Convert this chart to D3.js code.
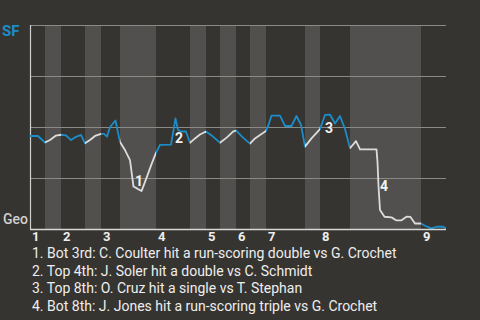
<!DOCTYPE html>
<html>
<head>
<meta charset="utf-8">
<script src="https://cdn.jsdelivr.net/npm/d3@7"></script>
<style>
  html, body { margin: 0; padding: 0; background: #363430; }
  svg { display: block; }
  text { font-family: Roboto, "Noto Sans", sans-serif; }
</style>
</head>
<body>
<svg id="chart" width="480" height="320"></svg>
<script>
// Play index (x) and SF win probability in % (y)
const playIndex = [0, 2, 3.75, 5, 6.5, 7.75, 9, 10.25, 11.5, 12.75, 13.75, 15, 16.25, 17.75, 18.5, 19.25, 20, 21.375, 22.5, 23.75, 25, 25.875, 26.75, 27.875, 29.25, 30.5, 31.5, 32.5, 35.25, 36.375, 37, 37.75, 39, 40, 41.25, 42.5, 44, 45.75, 47.5, 49.25, 50.75, 51.5, 53, 54.25, 55, 56.25, 57.875, 59, 59.625, 60.375, 62.5, 63.75, 65.375, 66.625, 67.75, 68.75, 70.375, 72.5, 73.75, 75, 76.25, 77.5, 78.75, 80, 81.5, 82.5, 86.625, 86.875, 87.125, 87.5, 88.625, 90.375, 91.625, 92.875, 94.125, 95.125, 96.25, 97.75, 98.75, 100.375, 101.625, 103.375, 104];
const sfWinPct = [45.6, 45.6, 42.4, 43.6, 45.8, 46.2, 45.9, 43.6, 45.2, 46.1, 42.0, 43.6, 45.6, 46.6, 46.6, 45.3, 50.0, 53.2, 42.6, 38.7, 33.8, 20.8, 19.9, 18.6, 25.7, 32.4, 37.3, 41.2, 41.4, 54.2, 48.5, 47.8, 47.8, 42.2, 44.4, 46.3, 47.8, 45.3, 42.3, 44.9, 47.7, 48.3, 45.3, 43.1, 41.9, 44.4, 46.6, 48.0, 51.0, 55.6, 55.6, 50.5, 50.5, 55.4, 51.0, 40.4, 44.4, 49.0, 55.9, 56.1, 51.7, 55.4, 49.0, 39.6, 43.1, 39.0, 39.0, 32.8, 21.1, 9.3, 6.0, 5.7, 4.2, 4.3, 6.0, 5.9, 2.7, 2.7, 1.6, 0.3, 1.1, 1.1, 0.3];

// Half-inning boundaries (play index), alternating top / bottom
const halfInningStarts = [0, 3.75, 7.75, 13.75, 17.75, 22.5, 31.5, 40, 44, 47.5, 51.5, 55, 59, 68.75, 72.5, 80, 97.75];
const gameEnd = 104;
const inningLabels = ["1", "2", "3", "4", "5", "6", "7", "8", "9"];

const yTicks = [0, 25, 50, 75, 100];
const teamTop = "SF";
const teamBottom = "Geo";

const eventLabels = ["1", "2", "3", "4"];
const eventX = [26.25, 36.25, 73.75, 87.5];
const eventY = [21.3, 42.2, 47.1, 18.6];
const eventNotes = [
  "1. Bot 3rd: C. Coulter hit a run-scoring double vs G. Crochet",
  "2. Top 4th: J. Soler hit a double vs C. Schmidt",
  "3. Top 8th: O. Cruz hit a single vs T. Stephan",
  "4. Bot 8th: J. Jones hit a run-scoring triple vs G. Crochet"
];

(function () {
const svg = d3.select("#chart");
const mLeft = 30, mRight = 446, mTop = 25, mBottom = 229;
const x = d3.scaleLinear().domain([0, gameEnd]).range([mLeft, mRight]);
const y = d3.scaleLinear().domain([0, 100]).range([mBottom, mTop]);

const halves = halfInningStarts.map((s, i) => ({
  start: s,
  end: i + 1 < halfInningStarts.length ? halfInningStarts[i + 1] : gameEnd,
  isTop: i % 2 === 0
}));

// bottom-half bands
svg.append("g").selectAll("rect")
  .data(halves.filter(h => !h.isTop))
  .join("rect")
  .attr("x", d => x(d.start))
  .attr("width", d => x(d.end) - x(d.start))
  .attr("y", mTop)
  .attr("height", mBottom - mTop)
  .attr("fill", "#51504e");

// gridlines
svg.append("g").selectAll("line")
  .data(yTicks.filter(t => t > 0))
  .join("line")
  .attr("x1", mLeft).attr("x2", mRight)
  .attr("y1", d => y(d) + 0.5).attr("y2", d => y(d) + 0.5)
  .attr("stroke", "#8c8a86").attr("stroke-width", 1);

// left axis line
svg.append("line")
  .attr("x1", mLeft + 0.5).attr("x2", mLeft + 0.5)
  .attr("y1", y(100)).attr("y2", y(0))
  .attr("stroke", "#cfcfcf").attr("stroke-width", 1.2);

// clip paths for top and bottom halves
const defs = svg.append("defs");
["top", "bot"].forEach(k => {
  defs.append("clipPath").attr("id", "clip-" + k)
    .selectAll("rect")
    .data(halves.filter(h => (k === "top") === h.isTop))
    .join("rect")
    .attr("x", d => x(d.start))
    .attr("width", d => x(d.end) - x(d.start))
    .attr("y", 0).attr("height", 320);
});

const pts = playIndex.map((p, i) => [p, sfWinPct[i]]);
const line = d3.line().x(d => x(d[0])).y(d => y(d[1]));

svg.append("path").attr("d", line(pts))
  .attr("fill", "none").attr("stroke", "#dcdcdc").attr("stroke-width", 1.8)
  .attr("stroke-linejoin", "round")
  .attr("clip-path", "url(#clip-bot)");
svg.append("path").attr("d", line(pts))
  .attr("fill", "none").attr("stroke", "#1b8dc9").attr("stroke-width", 1.8)
  .attr("stroke-linejoin", "round")
  .attr("clip-path", "url(#clip-top)");

// bottom axis line
svg.append("line")
  .attr("x1", mLeft).attr("x2", mRight)
  .attr("y1", mBottom + 0.5).attr("y2", mBottom + 0.5)
  .attr("stroke", "#d8d8d8").attr("stroke-width", 1.5);

// inning labels
const inningStarts = halves.filter(h => h.isTop).map(h => h.start);
svg.append("g").selectAll("text")
  .data(inningLabels)
  .join("text")
  .attr("x", (d, i) => x(inningStarts[i]) + 2)
  .attr("y", 241)
  .attr("fill", "#eeeeee")
  .attr("font-size", 13)
  .attr("font-weight", "bold")
  .text(d => d);

// team labels
svg.append("text").attr("x", 2).attr("y", 36)
  .attr("fill", "#1b8dc9").attr("font-size", 15).attr("font-weight", "bold")
  .text(teamTop);
svg.append("text").attr("x", 3).attr("y", 224)
  .attr("fill", "#d0d0d0").attr("font-size", 14).attr("font-weight", 500)
  .text(teamBottom);

// event labels on chart
svg.append("g").selectAll("text")
  .data(eventLabels)
  .join("text")
  .attr("x", (d, i) => x(eventX[i]))
  .attr("y", (d, i) => y(eventY[i]))
  .attr("fill", "#f2f2f2")
  .attr("font-size", 14)
  .attr("font-weight", "bold")
  .text(d => d);

// notes
svg.append("g").selectAll("text")
  .data(eventNotes)
  .join("text")
  .attr("x", 32)
  .attr("y", (d, i) => 258 + i * 17.7)
  .attr("fill", "#eeeeee")
  .attr("font-size", 14)
  .text(d => d);
})();
</script>
</body>
</html>
